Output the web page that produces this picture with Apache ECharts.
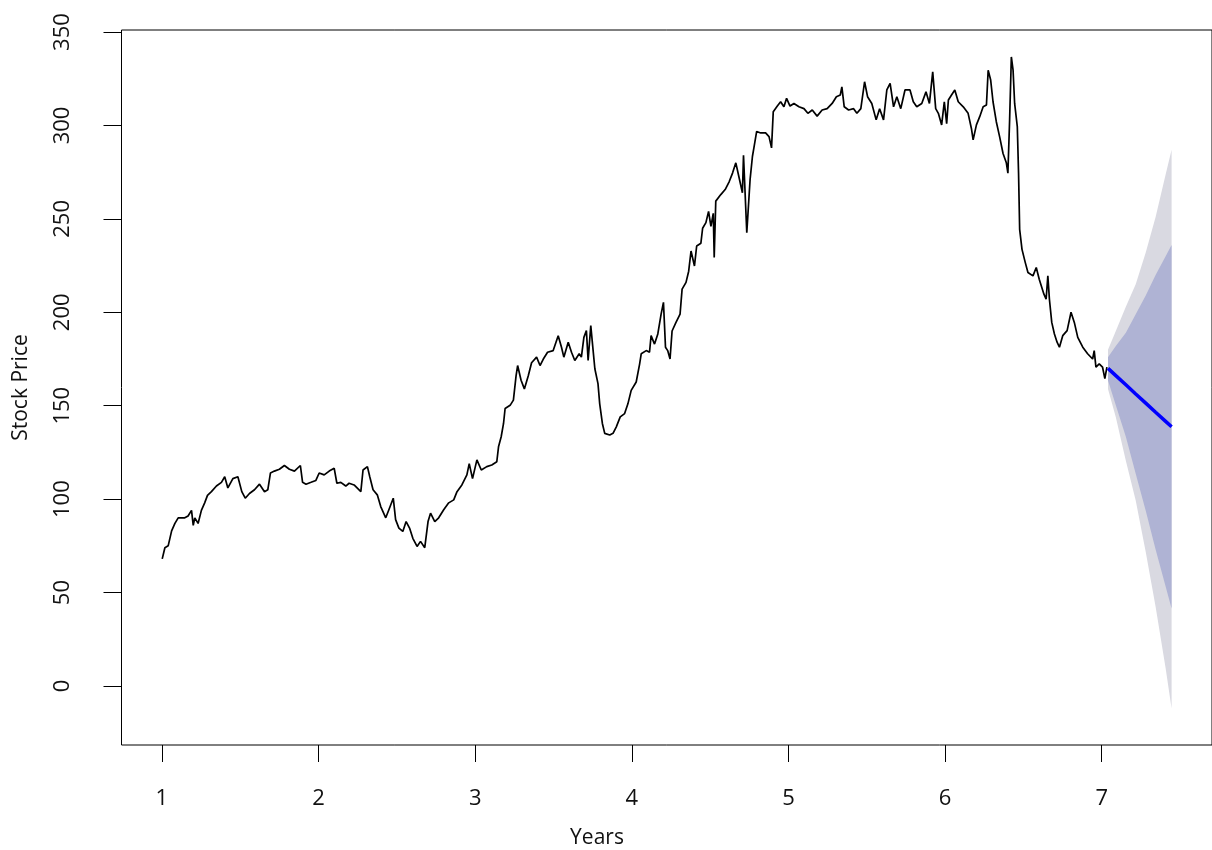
<!DOCTYPE html>
<html>
<head>
<meta charset="utf-8">
<title>Stock Price forecast</title>
<script src="https://cdn.jsdelivr.net/npm/echarts@6/dist/echarts.min.js"></script>
<style>
  html, body { margin: 0; padding: 0; background: #fff; }
  #chart { width: 1212px; height: 850px; }
</style>
</head>
<body>
<div id="chart"></div>
<script>
// Observed closing prices (time in years)
const years = [
  1.002, 1.019, 1.040, 1.062, 1.083, 1.104, 1.146, 1.167, 1.189, 1.200,
  1.210, 1.231, 1.252, 1.273, 1.291, 1.316, 1.348, 1.380, 1.401, 1.421,
  1.453, 1.485, 1.510, 1.532, 1.559, 1.591, 1.623, 1.655, 1.676, 1.693,
  1.718, 1.750, 1.782, 1.814, 1.846, 1.884, 1.898, 1.920, 1.952, 1.983,
  2.004, 2.036, 2.068, 2.100, 2.117, 2.142, 2.174, 2.195, 2.227, 2.270,
  2.284, 2.312, 2.327, 2.348, 2.375, 2.397, 2.429, 2.449, 2.477, 2.492,
  2.513, 2.538, 2.559, 2.581, 2.602, 2.629, 2.651, 2.678, 2.699, 2.715,
  2.742, 2.767, 2.799, 2.831, 2.863, 2.884, 2.915, 2.947, 2.962, 2.983,
  3.011, 3.039, 3.074, 3.106, 3.138, 3.149, 3.166, 3.181, 3.191, 3.223,
  3.244, 3.261, 3.271, 3.293, 3.314, 3.339, 3.360, 3.392, 3.414, 3.435,
  3.462, 3.498, 3.530, 3.551, 3.566, 3.594, 3.615, 3.636, 3.664, 3.678,
  3.694, 3.710, 3.721, 3.738, 3.753, 3.764, 3.784, 3.795, 3.812, 3.827,
  3.859, 3.880, 3.901, 3.926, 3.954, 3.975, 3.996, 4.028, 4.050, 4.060,
  4.092, 4.113, 4.123, 4.145, 4.166, 4.187, 4.202, 4.215, 4.229, 4.244,
  4.257, 4.282, 4.308, 4.321, 4.346, 4.363, 4.378, 4.400, 4.414, 4.441,
  4.452, 4.473, 4.490, 4.505, 4.520, 4.526, 4.536, 4.568, 4.596, 4.622,
  4.643, 4.664, 4.685, 4.706, 4.713, 4.734, 4.755, 4.770, 4.781, 4.797,
  4.823, 4.854, 4.876, 4.892, 4.903, 4.929, 4.950, 4.971, 4.988, 5.010,
  5.035, 5.067, 5.099, 5.124, 5.152, 5.183, 5.215, 5.247, 5.279, 5.306,
  5.331, 5.341, 5.356, 5.384, 5.416, 5.437, 5.462, 5.486, 5.505, 5.532,
  5.560, 5.582, 5.607, 5.628, 5.649, 5.671, 5.692, 5.717, 5.744, 5.776,
  5.797, 5.819, 5.851, 5.878, 5.900, 5.921, 5.931, 5.940, 5.957, 5.978,
  5.995, 6.010, 6.021, 6.041, 6.062, 6.084, 6.116, 6.147, 6.168, 6.179,
  6.200, 6.221, 6.243, 6.264, 6.275, 6.291, 6.306, 6.327, 6.348, 6.370,
  6.391, 6.401, 6.412, 6.423, 6.434, 6.444, 6.461, 6.469, 6.476, 6.491,
  6.512, 6.529, 6.561, 6.582, 6.601, 6.631, 6.645, 6.656, 6.666, 6.681,
  6.698, 6.715, 6.730, 6.751, 6.779, 6.804, 6.825, 6.847, 6.879, 6.910,
  6.942, 6.952, 6.963, 6.984, 7.005, 7.020, 7.033
];
const prices = [
  68, 74, 75, 83, 87, 90, 90, 91, 94, 86,
  90, 87, 94, 98, 102, 104, 107, 109, 112, 106,
  111, 112, 104, 100.5, 103, 105, 108, 104, 105, 114,
  115, 116, 118, 116, 115, 118, 109, 108, 109, 110,
  114, 113, 115, 116.5, 108.5, 109, 107, 108.5, 107.6, 104,
  115.6, 117.4, 112, 105, 102.3, 96, 90, 94.3, 100.5, 89,
  84.5, 82.7, 88, 84.5, 79, 74.7, 77.4, 74, 88, 92.5,
  88, 90, 94.3, 98, 99.6, 104, 107.6, 113, 119, 111,
  121, 115.6, 117.4, 118.3, 120, 128, 133.4, 140.5, 148.5, 150.2,
  153, 166, 171.5, 163.6, 159, 166, 173, 176, 171.5, 175,
  178.6, 179.5, 187.5, 181.3, 176, 184, 178.6, 174.2, 177.8, 176,
  186.6, 190.2, 174.2, 192.9, 179.5, 169.8, 161.8, 151, 140.5, 135.2,
  134.3, 135.2, 138.7, 144, 145.8, 151, 158.2, 162.7, 172.4, 177.8,
  179.5, 178.6, 187.5, 183, 188.4, 199, 205.3, 181.3, 179.5, 175,
  190, 194.6, 199, 212.4, 216, 222, 232.8, 224.8, 235.5, 237,
  245, 248, 254, 246, 253, 229.3, 259.5, 263, 265.7, 270,
  274.5, 280, 272, 264, 284, 242.6, 271, 283.4, 288.8, 296.8,
  296, 296, 294, 288, 307.4, 310.4, 312.7, 310, 314.5, 310.4,
  311.8, 310, 309, 306.5, 308.3, 305, 308.3, 309, 311.8, 315.4,
  316.3, 320.7, 310, 308.3, 309, 306.5, 309, 323.4, 315.4, 311.8,
  303, 309, 303, 319, 322.5, 310, 315.4, 309, 319, 319,
  312.7, 310, 311.8, 318, 311.8, 328.7, 327.8, 309, 306.5, 300.3,
  312.7, 301, 313.6, 316.3, 319, 312.7, 310, 306.5, 298.4, 292.3,
  300.3, 304.7, 310, 311, 329.6, 324.3, 312.7, 302, 294, 285,
  280, 274.5, 303, 336.7, 329.6, 311.8, 299.4, 274.5, 244.4, 233.7,
  226.6, 221.3, 219.5, 224, 217.7, 209.7, 207, 219.5, 207, 194.6,
  188.4, 184, 181.3, 187.5, 190.2, 200, 194.6, 186.6, 181.3, 177.8,
  175, 179.5, 170.7, 172.4, 170.7, 164.5, 170.7
];

// Point forecast with 80% and 95% prediction intervals
const fcYears = [7.040, 7.090, 7.154, 7.217, 7.281, 7.344, 7.408, 7.446];
const fcMean  = [170.0, 166.1, 161.2, 156.3, 151.4, 146.5, 141.6, 138.7];
const hi80    = [176.0, 182.0, 189.0, 199.0, 209.0, 220.0, 230.0, 236.0];
const lo80    = [163.5, 150.2, 133.4, 113.6, 93.8, 73.0, 53.2, 41.4];
const hi95    = [180.0, 190.0, 203.0, 215.0, 232.0, 251.0, 273.7, 287.0];
const lo95    = [159.0, 143.8, 120.6, 99.3, 71.7, 42.4, 9.5, -12.0];

// Axis ticks
const xTicks = [1, 2, 3, 4, 5, 6, 7];
const yTicks = [0, 50, 100, 150, 200, 250, 300, 350];

const chart = echarts.init(document.getElementById('chart'), null, { renderer: 'canvas' });

const FONT = 'Open Sans';
const TEXT = '#111';
const SIZE = 22;

function pairs(xs, ys) {
  return xs.map((x, i) => [x, ys[i]]);
}

// Filled prediction band drawn as one polygon through the axis scales
function band(lo, hi, color) {
  return {
    type: 'custom',
    silent: true,
    animation: false,
    data: [[fcYears[0], hi[0]]],
    renderItem: function (params, api) {
      const pts = [];
      for (let i = 0; i < fcYears.length; i++) pts.push(api.coord([fcYears[i], hi[i]]));
      for (let i = fcYears.length - 1; i >= 0; i--) pts.push(api.coord([fcYears[i], lo[i]]));
      return { type: 'polygon', shape: { points: pts }, style: { fill: color } };
    },
    z: 1
  };
}

const option = {
  animation: false,
  backgroundColor: '#ffffff',
  grid: {
    left: 121.5, right: -4.5, top: 30, bottom: 105,
    show: true, borderColor: '#000', borderWidth: 1, backgroundColor: 'transparent'
  },
  xAxis: {
    type: 'value',
    min: 0.742, max: 7.704,
    axisLine: { show: false, onZero: false },
    splitLine: { show: false },
    axisTick: { show: true, inside: false, length: 17, customValues: xTicks, lineStyle: { color: '#000', width: 1 } },
    axisLabel: { customValues: xTicks, margin: 43, fontFamily: FONT, fontSize: SIZE, color: TEXT }
  },
  yAxis: {
    type: 'value',
    min: -31.6, max: 351.1,
    axisLine: { show: false, onZero: false },
    splitLine: { show: false },
    axisTick: { show: true, inside: false, length: 18, customValues: yTicks, lineStyle: { color: '#000', width: 1 } },
    axisLabel: { customValues: yTicks, rotate: 90, margin: 48, fontFamily: FONT, fontSize: SIZE, color: TEXT },
    name: 'Stock Price',
    nameLocation: 'middle',
    nameGap: 90,
    nameTextStyle: { fontFamily: FONT, fontSize: 21, color: TEXT }
  },
  graphic: [{
    type: 'text',
    x: 597,
    y: 828,
    silent: true,
    style: { text: 'Years', font: '21px "' + FONT + '"', fill: TEXT, textAlign: 'center', textVerticalAlign: 'top' }
  }],
  series: [
    band(lo95, hi95, '#d9d9e1'),
    band(lo80, hi80, '#afb3d4'),
    {
      type: 'line',
      data: pairs(years, prices),
      showSymbol: false,
      lineStyle: { color: '#000', width: 1.7 },
      z: 3,
      silent: true
    },
    {
      type: 'line',
      data: pairs(fcYears, fcMean),
      showSymbol: false,
      lineStyle: { color: '#0000ff', width: 3.5 },
      z: 4,
      silent: true
    }
  ]
};

chart.setOption(option);
</script>
</body>
</html>
